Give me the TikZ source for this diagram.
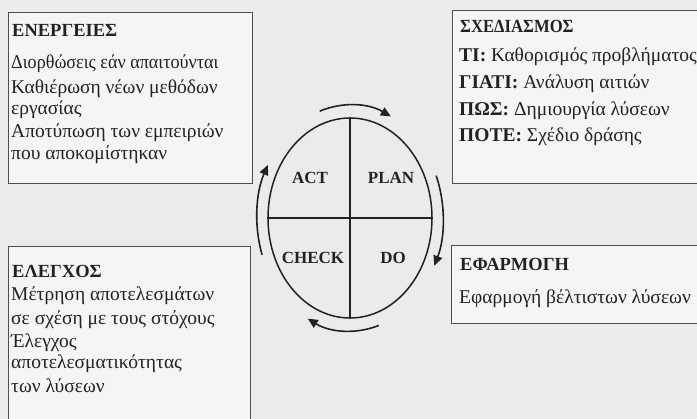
\documentclass[tikz,border=0pt]{standalone}
\usepackage{fontspec}
\setmainfont{Liberation Serif}
\usetikzlibrary{arrows.meta,shapes.geometric,calc}
\definecolor{bg}{HTML}{EBEBEB}
\definecolor{boxbg}{HTML}{F5F5F5}
\definecolor{ink}{HTML}{222222}
\begin{document}
\begin{tikzpicture}[x=1pt,y=-1pt,
  panel/.style={draw=ink!80, line width=1.4pt, fill=boxbg, inner sep=0pt, anchor=north west},
  ttl/.style={anchor=base west, inner sep=0pt, font=\fontsize{18.5}{20}\selectfont\bfseries, text=ink},
  txt/.style={anchor=base west, inner sep=0pt, font=\fontsize{19.5}{21}\selectfont, text=ink},
  lbl/.style={font=\fontsize{17}{19}\selectfont\bfseries, text=ink, inner sep=0pt},
  cyc/.style={ellipse, draw=ink, line width=1.5pt, minimum width=164pt, minimum height=200pt, inner sep=0pt},
  arr/.style={draw=ink, line width=1.6pt, -{Triangle[length=10pt,width=9pt]}}]
\useasboundingbox (0,0) rectangle (697,419);
\clip (0,0) rectangle (697,419);
\fill[bg] (0,0) rectangle (697,419);
% panels
\node[panel, minimum width=244pt, minimum height=171pt] (pact) at (8,12) {};
\node[panel, minimum width=260pt, minimum height=173pt] (pplan) at (452,10) {};
\node[panel, minimum width=242pt, minimum height=190pt] (pcheck) at (8,246) {};
\node[panel, minimum width=260pt, minimum height=78pt] (pdo) at (451,245) {};
% top-left text
\node[ttl] (a0) at (12,37) {ΕΝΕΡΓΕΙΕΣ};
\node[txt] (a1) at (11,69) {\scalebox{0.93}[1]{Διορθώσεις εάν απαιτούνται}};
\node[txt] (a2) at (11,94) {Καθιέρωση νέων μεθόδων};
\node[txt] (a3) at (11,115) {εργασίας};
\node[txt] (a4) at (11,138) {Αποτύπωση των εμπειριών};
\node[txt] (a5) at (11,160) {που αποκομίστηκαν};
% top-right text
\node[ttl] (p0) at (460,33) {\scalebox{0.9}[1]{ΣΧΕΔΙΑΣΜΟΣ}};
\node[txt] (p1) at (459,62) {\textbf{ΤΙ:} Καθορισμός προβλήματος};
\node[txt] (p2) at (459,89) {\textbf{ΓΙΑΤΙ:} Ανάλυση αιτιών};
\node[txt] (p3) at (459,116) {\textbf{ΠΩΣ:} Δημιουργία λύσεων};
\node[txt] (p4) at (459,142) {\textbf{ΠΟΤΕ:} Σχέδιο δράσης};
% bottom-left text
\node[ttl] (c0) at (12,278) {ΕΛΕΓΧΟΣ};
\node[txt] (c1) at (11,301) {Μέτρηση αποτελεσμάτων};
\node[txt] (c2) at (11,325) {σε σχέση με τους στόχους};
\node[txt] (c3) at (11,348) {Έλεγχος};
\node[txt] (c4) at (11,369) {αποτελεσματικότητας};
\node[txt] (c5) at (11,393) {των λύσεων};
% bottom-right text
\node[ttl] (d0) at (460,271) {ΕΦΑΡΜΟΓΗ};
\node[txt] (d1) at (459,304) {Εφαρμογή βέλτιστων λύσεων};
% cycle
\node[cyc] (cy) at (350,218) {};
\draw[draw=ink, line width=1.2pt] (cy.north) -- (cy.south);
\draw[draw=ink, line width=1.2pt] (cy.west) -- (cy.east);
\node[lbl] (lact) at (310,178) {ACT};
\node[lbl] (lplan) at (391,178) {PLAN};
\node[lbl] (lcheck) at (313,258) {CHECK};
\node[lbl] (ldo) at (393,258) {DO};
% arrows
\coordinate (o) at (cy.center);
\draw[arr] ($(o)+(-109:93 and 113)$) arc[start angle=-109, end angle=-64, x radius=93, y radius=113];
\draw[arr] ($(o)+(-22:93 and 113)$) arc[start angle=-22, end angle=25, x radius=93, y radius=113];
\draw[arr] ($(o)+(72:93 and 113)$) arc[start angle=72, end angle=117, x radius=93, y radius=113];
\draw[arr] ($(o)+(161:93 and 113)$) arc[start angle=161, end angle=208, x radius=93, y radius=113];
\end{tikzpicture}
\end{document}
